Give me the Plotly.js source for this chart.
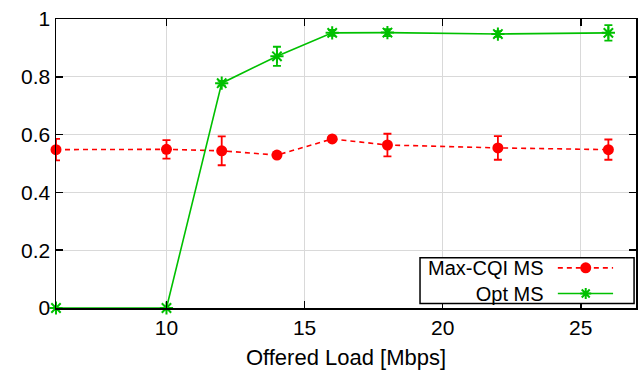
<!DOCTYPE html>
<html><head><meta charset="utf-8">
<script src="https://cdn.plot.ly/plotly-3.0.1.min.js"></script>
<style>html,body{margin:0;padding:0;background:#fff}#chart{width:640px;height:370px}</style>
</head><body><div id="chart"></div>
<script>
const offeredLoad = [6, 10, 12, 14, 16, 18, 22, 26];
const maxCqiValues = [0.548, 0.549, 0.544, 0.529, 0.585, 0.564, 0.554, 0.548];
const maxCqiErrors = [0.037, 0.032, 0.050, 0.010, 0.006, 0.039, 0.041, 0.035];
const optValues = [0.0, 0.0, 0.778, 0.871, 0.952, 0.953, 0.948, 0.952];
const optErrors = [0.0, 0.0, 0.008, 0.033, 0.010, 0.012, 0.010, 0.027];
const seriesNames = ['Max-CQI MS', 'Opt MS'];
const xTicks = [10, 15, 20, 25];
const yTicks = [0, 0.2, 0.4, 0.6, 0.8, 1];
const yTickLabels = ['0', '0.2', '0.4', '0.6', '0.8', '1'];

const RED = '#ff0000', GREEN = '#00c000';
const font = 'Liberation Sans, Arial, sans-serif';

const traces = [
  {x: offeredLoad, y: maxCqiValues, name: seriesNames[0], type: 'scatter', mode: 'lines+markers',
   line: {color: RED, width: 1.6, dash: '5px,4px'}, marker: {color: RED, size: 11, symbol: 'circle'},
   error_y: {type: 'data', array: maxCqiErrors, visible: true, color: RED, thickness: 1.8, width: 4},
   cliponaxis: false, showlegend: false},
  {x: offeredLoad, y: optValues, name: seriesNames[1], type: 'scatter', mode: 'lines+markers',
   line: {color: GREEN, width: 1.6}, marker: {color: GREEN, size: 11, symbol: 'asterisk-open', line: {color: GREEN, width: 2}},
   error_y: {type: 'data', array: optErrors, visible: true, color: GREEN, thickness: 1.8, width: 4},
   cliponaxis: false, showlegend: false}
];

// legend rows (data coords of the plot): first row and second row centres
const rowY = [0.139, 0.050];
const legendShapes = [
  {type: 'rect', xref: 'x', yref: 'y', x0: 19.18, x1: 26.93, y0: 0.016, y1: 0.174,
   line: {color: '#000', width: 1.5}, fillcolor: 'rgba(255,255,255,1)', layer: 'above'},
  {type: 'line', xref: 'x', yref: 'y', x0: 24.17, x1: 26.17, y0: rowY[0], y1: rowY[0],
   line: {color: RED, width: 1.6, dash: '5px,4px'}, layer: 'above'},
  {type: 'circle', xref: 'x', yref: 'y', xsizemode: 'pixel', ysizemode: 'pixel',
   xanchor: 25.18, yanchor: rowY[0], x0: -5.5, x1: 5.5, y0: -5.5, y1: 5.5,
   fillcolor: RED, line: {color: RED, width: 0}, layer: 'above'},
  {type: 'line', xref: 'x', yref: 'y', x0: 24.17, x1: 26.17, y0: rowY[1], y1: rowY[1],
   line: {color: GREEN, width: 1.6}, layer: 'above'},
  {type: 'path', xref: 'x', yref: 'y', xsizemode: 'pixel', ysizemode: 'pixel',
   xanchor: 25.18, yanchor: rowY[1],
   path: 'M-5.5,0L5.5,0M0,-5.5L0,5.5M-4,-4L4,4M-4,4L4,-4',
   line: {color: GREEN, width: 2}, layer: 'above'}
];

const layout = {
  width: 640, height: 370,
  margin: {l: 56, r: 4, t: 19, b: 62},
  paper_bgcolor: '#fff', plot_bgcolor: '#fff',
  font: {family: font, size: 21, color: '#000'},
  xaxis: {range: [6, 27], tickvals: xTicks, ticktext: xTicks.map(String),
    showgrid: true, gridcolor: '#d9d9d9', gridwidth: 1,
    showline: true, linecolor: '#000', linewidth: 1.5, mirror: 'ticks',
    ticks: 'inside', ticklen: 7, tickwidth: 1.5, tickcolor: '#000',
    zeroline: false, tickfont: {family: font, size: 21},
    title: {text: 'Offered Load [Mbps]', font: {family: font, size: 22}, standoff: 12}},
  yaxis: {range: [0, 1], tickvals: yTicks, ticktext: yTickLabels,
    showgrid: true, gridcolor: '#d9d9d9', gridwidth: 1,
    showline: true, linecolor: '#000', linewidth: 1.5, mirror: 'ticks',
    ticks: 'inside', ticklen: 7, tickwidth: 1.5, tickcolor: '#000',
    zeroline: false, tickfont: {family: font, size: 21}},
  shapes: legendShapes,
  annotations: [
    {xref: 'x', yref: 'y', x: 23.72, y: (rowY[0] + rowY[1]) / 2,
     text: seriesNames.join('<br>'), showarrow: false, align: 'right', borderpad: 0,
     xanchor: 'right', yanchor: 'middle', font: {family: font, size: 20, color: '#000'}}
  ],
  showlegend: false
};

Plotly.newPlot('chart', traces, layout, {displayModeBar: false, staticPlot: true});
</script></body></html>
